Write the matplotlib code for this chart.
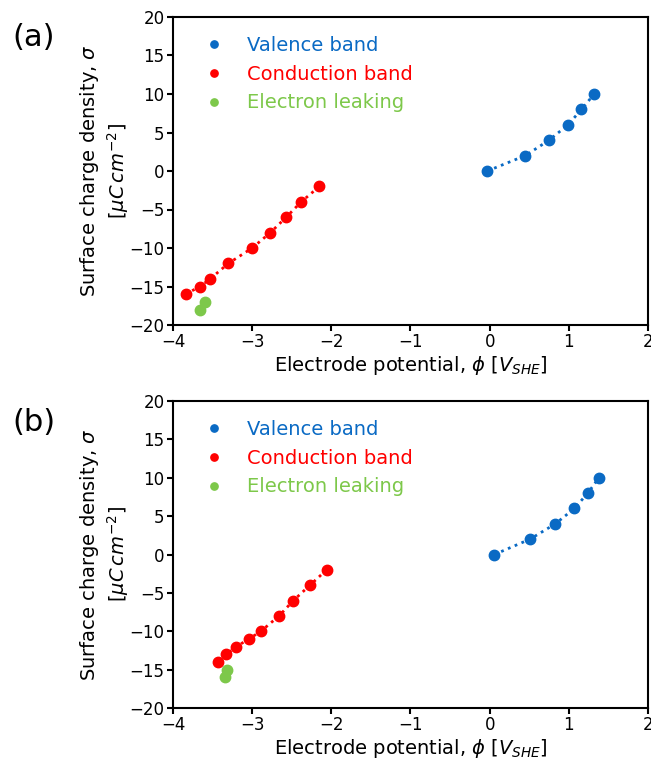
import numpy as np
import matplotlib
matplotlib.use("Agg")
import matplotlib.pyplot as plt

# panel (a)
a_val_x = [-0.03, 0.45, 0.75, 0.99, 1.16, 1.32]
a_val_y = [0, 2, 4, 6, 8, 10]
a_cond_x = [-3.84, -3.66, -3.53, -3.30, -3.00, -2.77, -2.57, -2.38, -2.15]
a_cond_y = [-16, -15, -14, -12, -10, -8, -6, -4, -2]
a_leak_x = [-3.66, -3.59]
a_leak_y = [-18, -17]

# panel (b)
b_val_x = [0.06, 0.51, 0.83, 1.07, 1.24, 1.38]
b_val_y = [0, 2, 4, 6, 8, 10]
b_cond_x = [-3.43, -3.33, -3.20, -3.04, -2.89, -2.66, -2.48, -2.27, -2.06]
b_cond_y = [-14, -13, -12, -11, -10, -8, -6, -4, -2]
b_leak_x = [-3.34, -3.32]
b_leak_y = [-16, -15]

xticks = [-4, -3, -2, -1, 0, 1, 2]
yticks = [-20, -15, -10, -5, 0, 5, 10, 15, 20]

blue = '#0a6ac4'
red = '#ff0000'
green = '#7dc84a'

W, H = 651, 759
fig = plt.figure(figsize=(W / 100, H / 100), dpi=100)

panels = [
    ('(a)', 17, 325, a_val_x, a_val_y, a_cond_x, a_cond_y, a_leak_x, a_leak_y),
    ('(b)', 401, 708, b_val_x, b_val_y, b_cond_x, b_cond_y, b_leak_x, b_leak_y),
]

for tag, top, bot, vx, vy, cx, cy, lx, ly in panels:
    left, right = 173, 648
    ax = fig.add_axes([left / W, 1 - bot / H, (right - left) / W, (bot - top) / H])
    ax.plot(vx, vy, ':', color=blue, lw=2)
    ax.plot(cx, cy, ':', color=red, lw=2)
    ax.plot(vx, vy, 'o', color=blue, ms=7.5, label='Valence band')
    ax.plot(cx, cy, 'o', color=red, ms=7.5, label='Conduction band')
    ax.plot(lx, ly, 'o', color=green, ms=7.5, label='Electron leaking')
    ax.set_xlim(-4, 2)
    ax.set_ylim(-20, 20)
    ax.set_xticks(xticks)
    ax.set_yticks(yticks)
    ax.tick_params(labelsize=12, width=1.5, length=4, pad=2)
    for s in ax.spines.values():
        s.set_linewidth(1.5)
    ax.set_xlabel(r'Electrode potential, $\phi$ [$V_{SHE}$]', fontsize=14, labelpad=2)
    ax.set_ylabel('Surface charge density, $\\sigma$\n[$\\mu C\\,cm^{-2}$]',
                  fontsize=14, labelpad=-1)
    leg = ax.legend(loc='upper left', frameon=False, fontsize=14, markerscale=0.7,
                    handletextpad=1.1, handlelength=1.2, labelspacing=0.5,
                    bbox_to_anchor=(0.025, 0.995))
    for txt, c in zip(leg.get_texts(), [blue, red, green]):
        txt.set_color(c)
    fig.text(12 / W, 1 - (top + 21) / H, tag, fontsize=22, va='center', ha='left')

fig.savefig('out.png', dpi=100)
